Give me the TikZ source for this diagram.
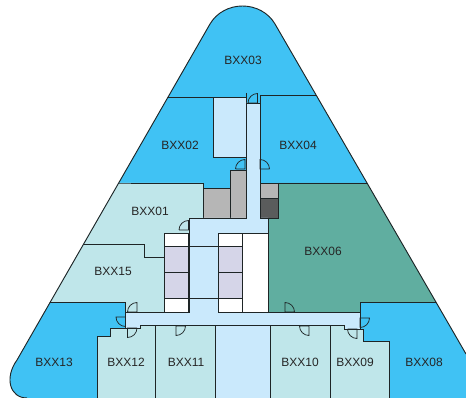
\documentclass[tikz,border=0pt]{standalone}
\usepackage{xcolor}
\usepackage{fontspec}
\usetikzlibrary{calc}
\setmainfont{Liberation Sans}
\definecolor{fpblue}{HTML}{40C2F4}
\definecolor{fppale}{HTML}{BFE6EA}
\definecolor{fphall}{HTML}{CAE9FC}
\definecolor{fpteal}{HTML}{60AEA0}
\definecolor{fpgrey}{HTML}{B6B6B6}
\definecolor{fpdark}{HTML}{5A5C5C}
\definecolor{fplilac}{HTML}{D5D5E8}
\definecolor{fpline}{HTML}{1E2526}
\newcommand{\outlinepath}{(210,24) .. controls (216.6,12.6) and (229.3,6) .. (242.5,6) .. controls (255.7,6) and (268.4,12.6) .. (275,24) -- (466,354) -- (466,398) -- (27,398) .. controls (10,398) and (4,378) .. (17,360) -- cycle}
\begin{document}
\begin{tikzpicture}[
  x=0.75pt, y=-0.75pt,
  room/.style={draw=fpline, line width=0.7pt, line join=miter, fill=#1},
  wall/.style={draw=fpline, line width=0.7pt},
  door/.style={draw=fpline, line width=0.55pt},
  tag/.style={font=\fontsize{9}{11}\selectfont, text=black!85, inner sep=0pt}
]
  \useasboundingbox (0,0) rectangle (466,398);

  \begin{scope}
    \clip \outlinepath;
    \fill[fpblue] (0,0) rectangle (466,398);

    % wings
    \path[room=fppale] (60,183) -- (203,183) -- (203,218) -- (189,218) -- (189,233) -- (164,233) -- (164,312) -- (125,312) -- (125,302) -- (0,302) -- (0,183) -- cycle;
    \draw[wall] (60,244) -- (144,244) -- (144,257) -- (164,257);
    \path[room=fpteal] (278,183) -- (470,183) -- (470,302) -- (360,302) -- (360,312) -- (268,312) -- (268,218) -- (278,218) -- cycle;
    \draw[wall] (168,97) -- (213,97);
    \draw[wall] (260,95) -- (330,95);
    \draw[wall] (260,95) -- (260,183);
    \draw[wall] (246,93) -- (246,103);

    % lower rooms
    \path[room=fppale] (97,400) -- (97,336) -- (110,336) -- (110,328) -- (140,328) -- (140,325) -- (344,325) -- (344,329) -- (363,329) -- (363,341) -- (389,341) -- (389,400) -- cycle;
    \path[room=fphall] (215,325) rectangle (270,400);
    \draw[wall] (155,326) -- (155,400);
    \draw[wall] (330,326) -- (330,400);

    % core
    \path[room=fpgrey] (203,188) rectangle (230,218);
    \path[room=fpgrey] (230,170) rectangle (246,218);
    \path[room=fpgrey] (260,183) rectangle (278,198);
    \path[room=fpdark] (260,198) rectangle (278,218);
    \path[room=fphall] (213,97) rectangle (246,157);
    \path[room=fphall] (246,103) -- (260,103) -- (260,218) -- (268,218) -- (268,312) -- (360,312) -- (360,329) -- (344,329) -- (344,325) -- (140,325) -- (140,328) -- (125,328) -- (125,312) -- (189,312) -- (189,218) -- (246,218) -- cycle;
    \draw[wall] (189,246) -- (218,246);
    \draw[wall] (189,298) -- (218,298);

    % lift shafts
    \foreach \shaftx in {164,218} {
      \path[room=white] (\shaftx,233) rectangle ++(24.5,13);
      \path[room=fplilac] (\shaftx,246) rectangle ++(24.5,26);
      \path[room=fplilac] (\shaftx,272) rectangle ++(24.5,26);
      \path[room=white] (\shaftx,298) rectangle ++(24.5,14);
    }
    \path[room=white] (242.5,233) rectangle (268,312);
  \end{scope}

  % outline
  \draw[draw=fpline, line width=0.7pt] (466,354) -- (275,24) .. controls (268.4,12.6) and (255.7,6) .. (242.5,6) .. controls (229.3,6) and (216.6,12.6) .. (210,24) -- (17,360) .. controls (4,378) and (10,398) .. (27,398);

  % doors, centre / end of leaf / end of arc
  \foreach \cx/\cy/\lx/\ly/\ax/\ay in {
    257.5/103/257.5/93.5/248/103,
    245/169/245/159.5/235.5/169,
    260/169/260/159.5/269.5/169,
    188.5/230/188.5/220.5/179/230,
    137/312/137/302.5/127.5/312,
    285/312/285/302.5/294.5/312,
    125.5/317/116/317/125.5/326.5,
    127.5/328/127.5/337.5/137/328,
    176/326/176/335.5/185.5/326,
    309/326/309/335.5/299.5/326,
    357/329/357/338.5/347.5/329,
    360/318/369.5/318/360/327.5} {
    \draw[door] (\ax,\ay) -- (\cx,\cy) -- (\lx,\ly)
      .. controls ($(\lx,\ly)!0.55!(\lx+\ax-\cx,\ly+\ay-\cy)$) and ($(\ax,\ay)!0.55!(\lx+\ax-\cx,\ly+\ay-\cy)$) .. (\ax,\ay);
  }

  % labels
  \node[tag] (bxx03) at (243,60) {BXX03};
  \node[tag] (bxx02) at (180,145) {BXX02};
  \node[tag] (bxx04) at (298,145) {BXX04};
  \node[tag] (bxx01) at (150,211) {BXX01};
  \node[tag] (bxx15) at (113,271) {BXX15};
  \node[tag] (bxx06) at (323,251) {BXX06};
  \node[tag] (bxx13) at (54,362) {BXX13};
  \node[tag] (bxx12) at (126,362) {BXX12};
  \node[tag] (bxx11) at (186,362) {BXX11};
  \node[tag] (bxx10) at (300,362) {BXX10};
  \node[tag] (bxx09) at (355,362) {BXX09};
  \node[tag] (bxx08) at (424,362) {BXX08};
\end{tikzpicture}
\end{document}
